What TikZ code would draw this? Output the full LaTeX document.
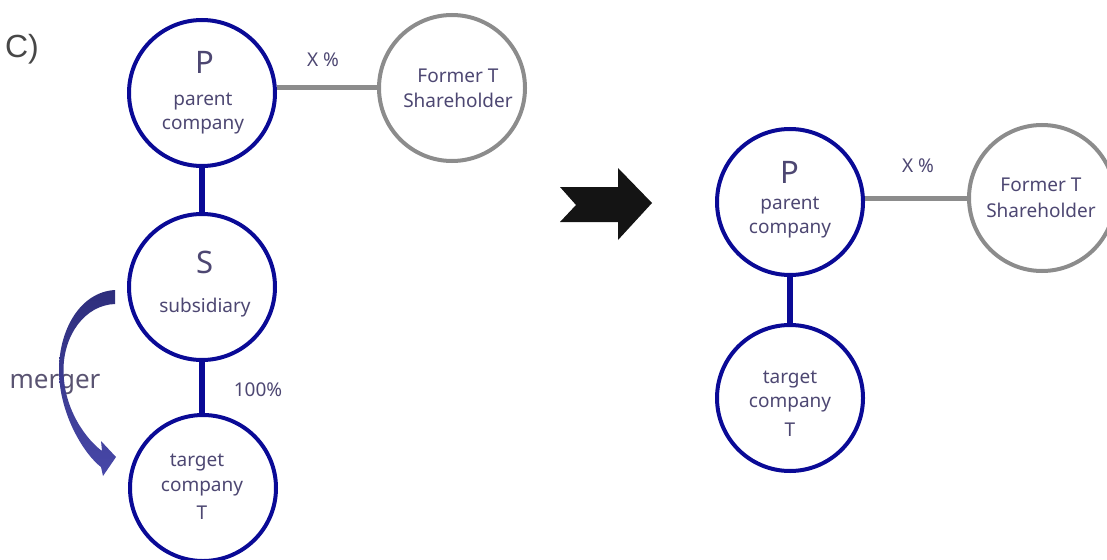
\documentclass[tikz,border=0pt]{standalone}
\usepackage{fontspec}
\setmainfont{Noto Sans}
\newfontfamily\arialf{Liberation Sans}
\definecolor{navy}{HTML}{0A0A96}
\definecolor{grayline}{HTML}{8C8C8C}
\definecolor{txt}{HTML}{4D4772}
\definecolor{mtxt}{HTML}{5A5472}
\definecolor{mtop}{HTML}{2E2E7C}
\definecolor{mbot}{HTML}{4848A8}
\tikzset{
  bluec/.style={circle,draw=navy,line width=4pt,minimum size=146pt,inner sep=0pt},
  grayc/.style={circle,draw=grayline,line width=4pt,minimum size=146pt,inner sep=0pt},
  lbl/.style={text=txt,font=\fontsize{19}{21}\selectfont,inner sep=0pt},
  big/.style={text=txt,font=\fontsize{31}{33}\selectfont,inner sep=0pt},
  bluel/.style={draw=navy,line width=6pt},
  grayl/.style={draw=grayline,line width=5pt},
}
\begin{document}
\begin{tikzpicture}[x=1pt,y=-1pt]
\useasboundingbox (0,0) rectangle (1107,559);
% left side
\node[bluec] (P1) at (202,93) {};
\node[grayc] (F1) at (452,88) {};
\node[bluec] (S1) at (202,287) {};
\node[bluec] (T1) at (203,488) {};
\draw[grayl] (P1.east |- F1.west) -- (F1.west);
\draw[bluel] (P1) -- (S1);
\draw[bluel] (S1.south) -- (S1.south |- T1.north);
\node[big] (P1a) at (205,62) {P};
\node[lbl] (P1b) at (203,102) {parent};
\node[lbl] (P1c) at (203,127) {company};
\node[lbl] (F1a) at (458,76) {Former T};
\node[lbl] (F1b) at (458,100) {Shareholder};
\node[lbl] (X1) at (323,60) {X \%};
\node[big] (S1a) at (205,262) {S};
\node[lbl] (S1b) at (205,308) {subsidiary};
\node[lbl] (T1a) at (197,463) {target};
\node[lbl] (T1b) at (202,489) {company};
\node[lbl] (T1c) at (202,513) {T};
\node[lbl] (H1) at (258,390) {100\%};
\node[text=black!72,font=\arialf\fontsize{32}{34}\selectfont,inner sep=0pt] (C) at (22,49) {C)};
\node[text=mtxt,font=\fontsize{26}{28}\selectfont,inner sep=0pt] (M) at (55,385) {merger};
\shade[top color=mtop,bottom color=mbot]
  (115,290) .. controls (80,292) and (59,330) .. (59,370)
  .. controls (59,415) and (85,455) .. (101,467)
  -- (103,476) -- (116,457) -- (101,441) -- (102,451)
  .. controls (87,440) and (63.5,410) .. (63.5,370)
  .. controls (63.5,335) and (85,305) .. (115,304) -- cycle;
% big arrow
\fill[black!92] (560,187) -- (618,187) -- (618,168) -- (652,203) -- (618,240) -- (618,222) -- (560,222) -- (576,205) -- cycle;
% right side
\node[bluec] (P2) at (790,202) {};
\node[grayc] (F2) at (1042,198) {};
\node[bluec] (T2) at (790,398) {};
\draw[grayl] (P2.east |- F2.west) -- (F2.west);
\draw[bluel] (P2) -- (T2);
\node[big] (P2a) at (790,172) {P};
\node[lbl] (P2b) at (790,206) {parent};
\node[lbl] (P2c) at (790,231) {company};
\node[lbl] (F2a) at (1041,185) {Former T};
\node[lbl] (F2b) at (1041,210) {Shareholder};
\node[lbl] (X2) at (918,166) {X \%};
\node[lbl] (T2a) at (790,380) {target};
\node[lbl] (T2b) at (790,405) {company};
\node[lbl] (T2c) at (790,430) {T};
\end{tikzpicture}
\end{document}
